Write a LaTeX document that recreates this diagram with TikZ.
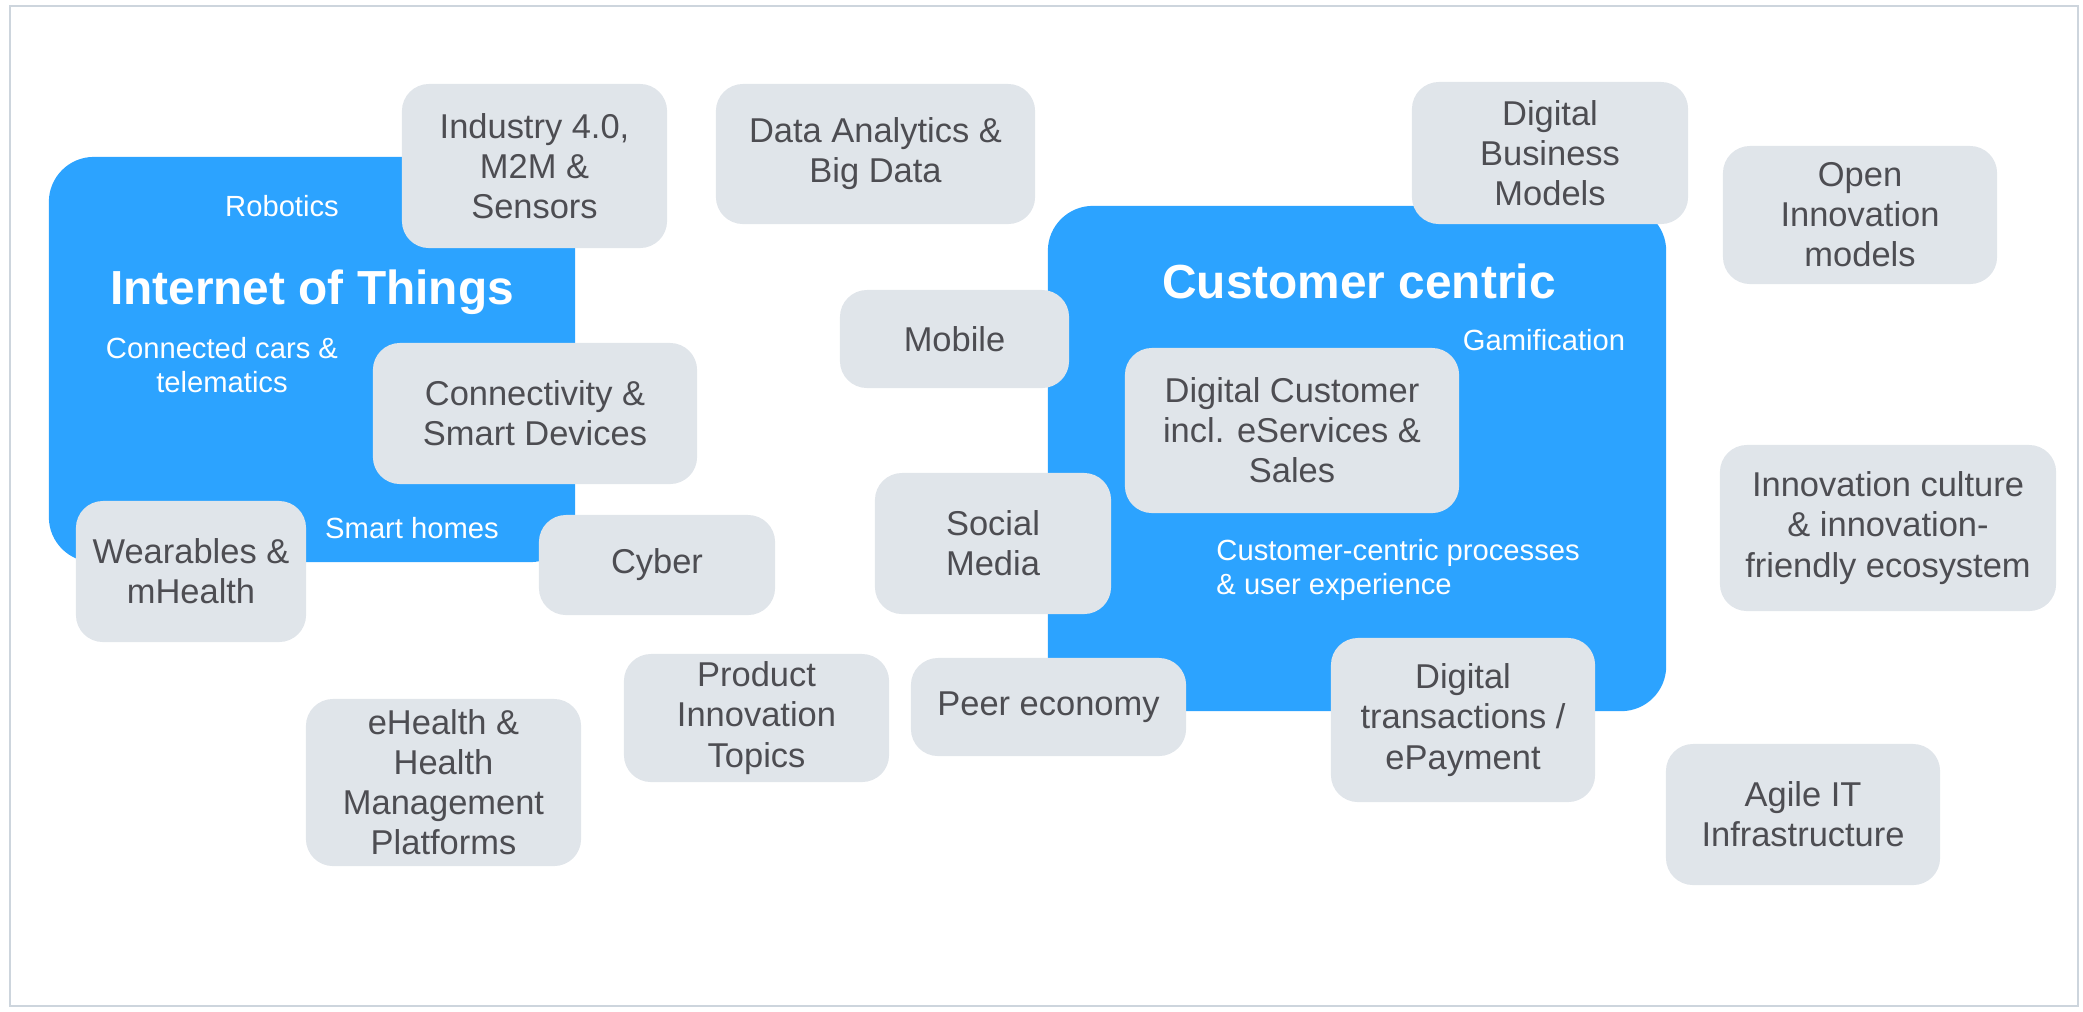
\documentclass[tikz,border=0pt]{standalone}
\usepackage{fontspec}
\setmainfont{Liberation Sans}
\definecolor{areablue}{HTML}{2CA3FF}
\definecolor{topicgray}{HTML}{E0E5EA}
\definecolor{topictext}{HTML}{4D4D52}
\definecolor{framegray}{HTML}{CDD5DD}

\begin{document}
\begin{tikzpicture}[
	% One unit is one pixel of the layout, y runs downwards.
	x=0.01cm, y=-0.01cm
	]
	% Styles for the two blue fields, the grey topics and the white labels.
	\tikzset{
		area/.style={fill=areablue, rounded corners=0.45cm, inner sep=0pt, outer sep=0pt},
		topic/.style={fill=topicgray, rounded corners=0.27cm, inner sep=0pt, outer sep=0pt, align=center, text=topictext, font=\fontsize{9.8}{11.4}\selectfont},
		areatitle/.style={text=white, font=\fontsize{13.6}{16}\selectfont\bfseries},
		areanote/.style={text=white, align=center, font=\fontsize{8.3}{9.8}\selectfont}
	}
	
	% === FRAME ===
	\useasboundingbox (0,0) rectangle (2083,1011);
	\draw[framegray, line width=0.6pt] (10,6) rectangle (2078,1006);
	
	% === BLUE FIELDS ===
	\node[area, minimum width=5.26cm, minimum height=4.05cm] (iot) at (312,359.5) {};
	\node[area, minimum width=6.18cm, minimum height=5.05cm] (cust) at (1357,458.5) {};
	
	% White labels inside the fields.
	\node[areanote] (robotics) at (282,206) {Robotics};
	\node[areatitle] (iottitle) at (312,292) {Internet of Things};
	\node[areanote] (cars) at (222,365) {Connected cars \&\\telematics};
	\node[areanote] (homes) at (412,528) {Smart homes};
	\node[areatitle] (custtitle) at (1359,281) {Customer centric};
	\node[areanote] (gamif) at (1544,340) {Gamification};
	\node[areanote, align=left, anchor=west] (processes) at (1204,570) {Customer-centric processes\\\& user experience};
	
	% === TOPICS ===
	\node[topic, minimum width=2.65cm, minimum height=1.64cm] (industry) at (534.5,166) {Industry 4.0,\\M2M \&\\Sensors};
	\node[topic, minimum width=3.19cm, minimum height=1.40cm] (analytics) at (875.5,154) {Data Analytics \&\\Big Data};
	\node[topic, minimum width=2.76cm, minimum height=1.42cm] (business) at (1550,153) {Digital\\Business\\Models};
	\node[topic, minimum width=2.74cm, minimum height=1.38cm] (openinno) at (1860,215) {Open\\Innovation\\models};
	\node[topic, minimum width=2.29cm, minimum height=0.98cm] (mobile) at (954.5,339) {Mobile};
	\node[topic, minimum width=3.24cm, minimum height=1.41cm] (devices) at (535,413.5) {Connectivity \&\\Smart Devices};
	\node[topic, minimum width=3.34cm, minimum height=1.65cm] (digcust) at (1292,430.5) {Digital Customer\\incl. eServices \&\\Sales};
	\node[topic, minimum width=3.36cm, minimum height=1.66cm] (culture) at (1888,528) {Innovation culture\\\& innovation-\\friendly ecosystem};
	\node[topic, minimum width=2.36cm, minimum height=1.41cm] (social) at (993,543.5) {Social\\Media};
	\node[topic, minimum width=2.30cm, minimum height=1.41cm] (wearables) at (191,571.5) {Wearables \&\\mHealth};
	\node[topic, minimum width=2.36cm, minimum height=1.00cm] (cyber) at (657,565) {Cyber};
	\node[topic, minimum width=2.65cm, minimum height=1.28cm] (product) at (756.5,718) {Product\\Innovation\\Topics};
	\node[topic, minimum width=2.75cm, minimum height=0.98cm] (peer) at (1048.5,707) {Peer economy};
	\node[topic, minimum width=2.64cm, minimum height=1.64cm] (payment) at (1463,720) {Digital\\transactions /\\ePayment};
	\node[topic, minimum width=2.75cm, minimum height=1.67cm] (ehealth) at (443.5,782.5) {eHealth \&\\Health\\Management\\Platforms};
	\node[topic, minimum width=2.74cm, minimum height=1.41cm] (agile) at (1803,814.5) {Agile IT\\Infrastructure};
\end{tikzpicture}
\end{document}
